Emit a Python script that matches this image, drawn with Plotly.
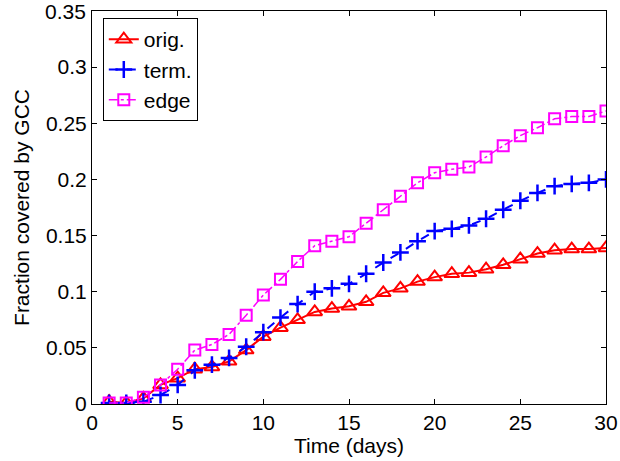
import plotly.graph_objects as go

days = list(range(1, 31))
orig = [0.002, 0.001, 0.005, 0.017, 0.023, 0.031, 0.033, 0.038, 0.048, 0.060,
        0.068, 0.075, 0.082, 0.085, 0.087, 0.091, 0.099, 0.103, 0.109, 0.113,
        0.116, 0.117, 0.120, 0.124, 0.129, 0.134, 0.137, 0.138, 0.138, 0.139]
term = [0.001, 0.001, 0.002, 0.008, 0.017, 0.030, 0.035, 0.041, 0.051, 0.064,
        0.077, 0.089, 0.100, 0.103, 0.107, 0.116, 0.126, 0.135, 0.145, 0.154,
        0.156, 0.159, 0.165, 0.173, 0.181, 0.188, 0.194, 0.196, 0.197, 0.200]
edge = [0.001, 0.001, 0.006, 0.017, 0.031, 0.048, 0.053, 0.062, 0.079, 0.097,
        0.111, 0.127, 0.141, 0.145, 0.149, 0.161, 0.173, 0.185, 0.197, 0.206,
        0.209, 0.211, 0.220, 0.230, 0.239, 0.246, 0.254, 0.256, 0.256, 0.261]

x_ticks = [0, 5, 10, 15, 20, 25, 30]
y_ticks = [0, 0.05, 0.1, 0.15, 0.2, 0.25, 0.3, 0.35]
y_ticktext = ["0", "0.05", "0.1", "0.15", "0.2", "0.25", "0.3", "0.35"]

FONT = "Liberation Sans, Arial, Helvetica, sans-serif"
FS = 21

fig = go.Figure()
fig.add_trace(go.Scatter(
    x=days, y=orig, name="orig.", mode="lines+markers",
    line=dict(color="#ff0000", width=2, dash="solid"),
    marker=dict(symbol="triangle-up-open", size=13, color="#ff0000",
                line=dict(width=2, color="#ff0000"))))
fig.add_trace(go.Scatter(
    x=days, y=term, name="term.", mode="lines+markers",
    line=dict(color="#0000ff", width=2, dash="dash"),
    marker=dict(symbol="cross-thin-open", size=12, color="#0000ff",
                line=dict(width=2.5, color="#0000ff"))))
fig.add_trace(go.Scatter(
    x=days, y=edge, name="edge", mode="lines+markers",
    line=dict(color="#ff00ff", width=1.5, dash="dashdot"),
    marker=dict(symbol="square-open", size=11, color="#ff00ff",
                line=dict(width=2, color="#ff00ff"))))

axis_common = dict(
    showgrid=False, zeroline=False, showline=True, linecolor="black",
    linewidth=1, mirror="ticks", ticks="inside", ticklen=5, tickcolor="black",
    tickfont=dict(size=FS, color="black", family=FONT), automargin=False,
)

# The top tick label is drawn as an annotation so it is not dropped at the edge
top_label = y_ticktext[-1]
shown_ticktext = y_ticktext[:-1] + [""]

fig.update_xaxes(range=[0, 30], tickvals=x_ticks,
                 title=dict(text="Time (days)", font=dict(size=FS, color="black", family=FONT),
                            standoff=0),
                 **axis_common)
fig.update_yaxes(range=[0, 0.35], tickvals=y_ticks, ticktext=shown_ticktext,
                 title=dict(text="Fraction covered by GCC", font=dict(size=FS, color="black", family=FONT),
                            standoff=10),
                 **axis_common)

fig.add_annotation(text=top_label, xref="paper", x=0, xanchor="right", xshift=-5,
                   yref="y", y=y_ticks[-1], yanchor="middle", showarrow=False,
                   borderpad=0, font=dict(size=FS, color="black", family=FONT))

fig.update_layout(
    width=620, height=461,
    margin=dict(l=92, r=14, t=11, b=57),
    plot_bgcolor="white", paper_bgcolor="white",
    font=dict(family=FONT, color="black", size=FS),
    legend=dict(x=0.021, y=0.982, xanchor="left", yanchor="top",
                bgcolor="white", bordercolor="black", borderwidth=1,
                font=dict(size=FS, color="black", family=FONT),
                tracegroupgap=0, itemwidth=30),
    showlegend=True,
)

fig.write_html("out.html")
